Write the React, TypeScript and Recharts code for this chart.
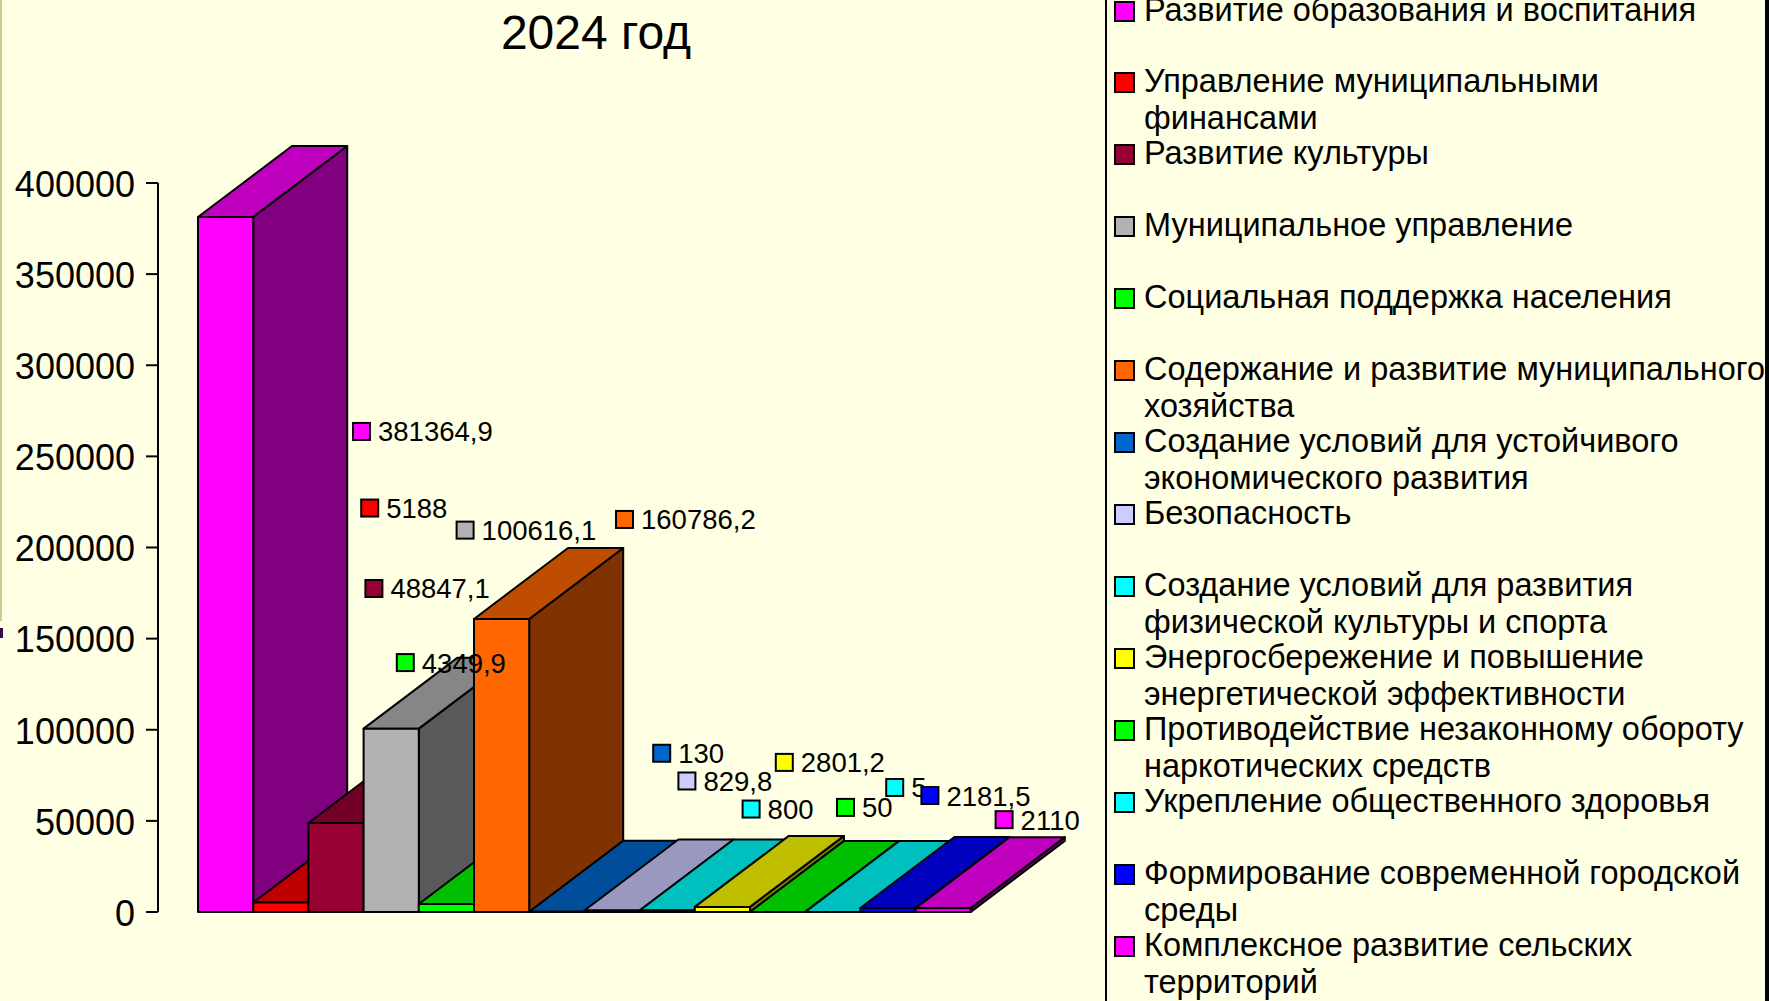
import React from 'react';
import { Bar, BarChart, LabelList, Legend, XAxis, YAxis } from 'recharts';

const year = '2024 год';
const programs = [
  'Развитие образования и воспитания',
  'Управление муниципальными финансами',
  'Развитие культуры',
  'Муниципальное управление',
  'Социальная поддержка населения',
  'Содержание и развитие муниципального хозяйства',
  'Создание условий для устойчивого экономического развития',
  'Безопасность',
  'Создание условий для развития физической культуры и спорта',
  'Энергосбережение и повышение энергетической эффективности',
  'Противодействие незаконному обороту наркотических средств',
  'Укрепление общественного здоровья',
  'Формирование современной городской среды',
  'Комплексное развитие сельских территорий',
];
const amounts = [381364.9, 5188, 48847.1, 100616.1, 4349.9, 160786.2, 130, 829.8, 800, 2801.2, 50, 5, 2181.5, 2110];
const yTicks = [0, 50000, 100000, 150000, 200000, 250000, 300000, 350000, 400000];

const colors = ['#FF00FF', '#FF0000', '#990033', '#B2B2B2', '#00FF00', '#FF6600', '#0066CC', '#CCCCFF', '#00FFFF', '#FFFF00', '#00FF00', '#00FFFF', '#0000FF', '#FF00FF'];
// [dx, dy] of each value label from the top left corner of its bar
const labelShift = [
  [155, 214], [108, -395], [57, -235], [93, -199], [-22, -242], [142, -100], [124, -159],
  [94, -130], [103, -102], [81, -145], [87, -105], [81, -125], [61, -113], [80, -89],
];

const FONT = '"Liberation Sans", Arial, sans-serif';
const DEPTH_X = 94;
const DEPTH_Y = 71;

const row: Record<string, string | number> = { name: year };
amounts.forEach((v, i) => { row['s' + i] = v; });

const shade = (hex: string, k: number) => {
  const n = parseInt(hex.slice(1), 16);
  const c = [n >> 16, (n >> 8) & 255, n & 255].map(v => Math.round(v * k));
  return `rgb(${c[0]},${c[1]},${c[2]})`;
};

const Box3D = (props: any) => {
  const { x, y, width: w, height: h, fill } = props;
  return (
    <g stroke="#000" strokeWidth={2} strokeLinejoin="round">
      <path d={`M${x + w},${y} l${DEPTH_X},${-DEPTH_Y} v${h} l${-DEPTH_X},${DEPTH_Y} z`} fill={shade(fill, 0.5)} />
      <path d={`M${x},${y} l${DEPTH_X},${-DEPTH_Y} h${w} l${-DEPTH_X},${DEPTH_Y} z`} fill={shade(fill, 0.75)} />
      <rect x={x} y={y} width={w} height={h} fill={fill} />
    </g>
  );
};

const valueLabel = (i: number) => (props: any) => {
  const { viewBox, value } = props;
  const lx = viewBox.x + labelShift[i][0];
  const ly = viewBox.y + labelShift[i][1];
  return (
    <g>
      <rect x={lx} y={ly - 8} width={17} height={17} fill={colors[i]} stroke="#000" strokeWidth={2} />
      <text x={lx + 25} y={ly + 10.5} fontSize={27.5} fontFamily={FONT} fill="#000">
        {String(value).replace('.', ',')}
      </text>
    </g>
  );
};

const LegendList = ({ payload }: any) => (
  <div style={{ fontFamily: FONT, fontSize: 32.5, lineHeight: '37px', color: '#000' }}>
    {(payload || []).map((item: any, i: number) => (
      <div key={item.value} style={{ position: 'absolute', left: 38, top: i * 71.95 - 8.5, width: 626 }}>
        <span style={{ position: 'absolute', left: -30, top: 9, width: 17, height: 17, background: item.color, border: '2px solid #000' }} />
        {item.value}
      </div>
    ))}
  </div>
);

export default function App() {
  return (
    <div style={{ position: 'absolute', left: 0, top: 0, width: 1769, height: 1001, background: '#FFFFE3', overflow: 'hidden' }}>
      <div style={{ position: 'absolute', left: 0, top: 0, width: 2, height: 621, background: '#CCCC99' }} />
      <div style={{ position: 'absolute', left: 0, top: 628, width: 3, height: 10, background: '#3A0A4A' }} />
      <div style={{ position: 'absolute', left: 1105, top: 0, width: 2, height: 1001, background: '#000' }} />
      <div style={{ position: 'absolute', left: 1765, top: 0, width: 4, height: 1001, background: '#000' }} />
      <BarChart
        width={1769}
        height={1001}
        data={[row]}
        margin={{ top: 183, right: 758, bottom: 89, left: 8 }}
        barCategoryGap={0}
        barGap={0}
      >
        <text x={596} y={49} textAnchor="middle" fontSize={48} fontFamily={FONT} fill="#000">{year}</text>
        <XAxis dataKey="name" hide />
        <YAxis
          width={150}
          domain={[0, 400000]}
          ticks={yTicks}
          interval={0}
          tickSize={12}
          tickMargin={11}
          axisLine={{ stroke: '#000', strokeWidth: 2 }}
          tickLine={{ stroke: '#000', strokeWidth: 2 }}
          tick={{ fill: '#000', fontSize: 36, fontFamily: FONT, dy: 1 }}
        />
        <Legend
          layout="vertical"
          align="center"
          verticalAlign="middle"
          itemSorter={null}
          content={<LegendList />}
          wrapperStyle={{ left: 1106, top: 0, width: 663, height: 1001 }}
        />
        {programs.map((name, i) => (
          <Bar key={name} dataKey={'s' + i} name={name} fill={colors[i]} barSize={55.2} shape={Box3D} isAnimationActive={false}>
            <LabelList dataKey={'s' + i} content={valueLabel(i)} />
          </Bar>
        ))}
      </BarChart>
    </div>
  );
}
